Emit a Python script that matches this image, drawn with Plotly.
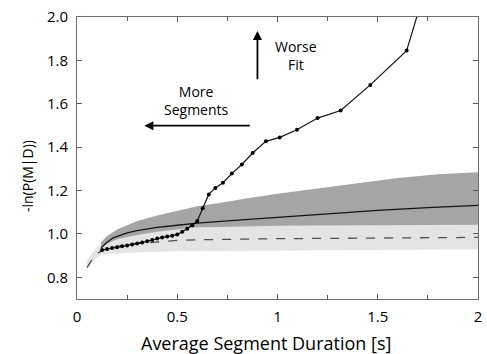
import plotly.graph_objects as go

# Model-score curve (one point per segmentation)
seg_duration = [0.125, 0.15, 0.175, 0.2, 0.225, 0.25, 0.275, 0.3, 0.325, 0.35,
                0.375, 0.4, 0.425, 0.45, 0.475, 0.5, 0.525, 0.55, 0.575, 0.6,
                0.627, 0.657, 0.69, 0.728, 0.772, 0.822, 0.876, 0.942, 1.011,
                1.097, 1.2, 1.315, 1.463, 1.644, 1.75]
seg_score = [0.926, 0.931, 0.935, 0.939, 0.943, 0.947, 0.951, 0.956, 0.961, 0.966,
             0.972, 0.979, 0.984, 0.988, 0.992, 0.997, 1.01, 1.024, 1.04, 1.06,
             1.118, 1.182, 1.212, 1.236, 1.278, 1.32, 1.373, 1.427, 1.445,
             1.48, 1.534, 1.569, 1.687, 1.845, 2.17]

# Upper reference band (dark) and its mean (solid)
dark_x = [0.12, 0.15, 0.2, 0.3, 0.4, 0.5, 0.6, 0.75, 0.85, 1.0, 1.2, 1.4, 1.6, 1.8, 2.0]
dark_hi = [0.962, 0.99, 1.02, 1.06, 1.085, 1.105, 1.128, 1.148, 1.165, 1.185,
           1.21, 1.235, 1.258, 1.275, 1.284]
dark_lo = [0.94, 0.955, 0.975, 0.995, 1.01, 1.02, 1.03, 1.034, 1.036, 1.038,
           1.039, 1.04, 1.041, 1.042, 1.042]
solid_x = [0.12, 0.15, 0.18, 0.25, 0.3, 0.4, 0.5, 0.6, 0.75, 1.0, 1.25, 1.5, 1.75, 2.0]
solid_y = [0.935, 0.962, 0.982, 1.005, 1.015, 1.03, 1.04, 1.05, 1.06, 1.077,
           1.094, 1.109, 1.121, 1.132]

# Lower reference band (light) and its mean (dashed)
light_x = [0.05, 0.07, 0.09, 0.11, 0.13, 0.17, 0.2, 0.3, 0.4, 0.5, 0.75, 1.0, 1.5, 2.0]
light_hi = [0.875, 0.905, 0.928, 0.945, 0.955, 0.968, 0.978, 0.998, 1.012, 1.022,
            1.036, 1.04, 1.042, 1.044]
light_lo = [0.84, 0.862, 0.882, 0.898, 0.905, 0.91, 0.912, 0.915, 0.918, 0.92,
            0.923, 0.925, 0.927, 0.929]
dashed_x = [0.05, 0.07, 0.09, 0.11, 0.13, 0.17, 0.2, 0.3, 0.4, 0.5, 0.6, 0.75, 1.0, 1.5, 2.0]
dashed_y = [0.845, 0.875, 0.898, 0.915, 0.925, 0.937, 0.943, 0.955, 0.964, 0.97,
            0.973, 0.976, 0.978, 0.981, 0.984]

x_ticks = [0, 0.5, 1, 1.5, 2]
x_tick_text = ["0", "0.5", "1", "1.5", "2"]
y_ticks = [0.8, 1.0, 1.2, 1.4, 1.6, 1.8, 2.0]
y_tick_text = ["0.8", "1.0", "1.2", "1.4", "1.6", "1.8", "2.0"]

FONT = "Open Sans"
LIGHT = "rgb(228,228,228)"
DARK = "rgb(165,165,165)"

fig = go.Figure()

fig.add_trace(go.Scatter(
    x=light_x + light_x[::-1], y=light_hi + light_lo[::-1],
    fill="toself", fillcolor=LIGHT, line=dict(width=0), mode="lines",
    hoverinfo="skip", showlegend=False))
fig.add_trace(go.Scatter(
    x=dark_x + dark_x[::-1], y=dark_hi + dark_lo[::-1],
    fill="toself", fillcolor=DARK, line=dict(width=0), mode="lines",
    hoverinfo="skip", showlegend=False))
fig.add_trace(go.Scatter(
    x=dashed_x, y=dashed_y, mode="lines",
    line=dict(color="rgb(80,80,80)", width=1.3, dash="dash"), showlegend=False))
fig.add_trace(go.Scatter(
    x=solid_x, y=solid_y, mode="lines",
    line=dict(color="rgb(20,20,20)", width=1.3), showlegend=False))
fig.add_trace(go.Scatter(
    x=seg_duration, y=seg_score, mode="lines+markers",
    line=dict(color="rgb(20,20,20)", width=1.2),
    marker=dict(color="black", size=4), showlegend=False))

# Arrows
fig.add_annotation(x=0.900, y=1.935, ax=0.900, ay=1.706, xref="x", yref="y",
                   axref="x", ayref="y", text="", showarrow=True,
                   arrowhead=2, arrowsize=1, arrowwidth=1.8, arrowcolor="black")
fig.add_annotation(x=0.336, y=1.499, ax=0.869, ay=1.499, xref="x", yref="y",
                   axref="x", ayref="y", text="", showarrow=True,
                   arrowhead=2, arrowsize=1, arrowwidth=1.8, arrowcolor="black")

# Arrow captions
label_font = dict(family=FONT, size=14, color="black")
fig.add_annotation(x=1.091, y=1.823, xref="x", yref="y", text="Worse<br>Fit",
                   showarrow=False, font=label_font, align="center")
fig.add_annotation(x=0.595, y=1.616, xref="x", yref="y", text="More<br>Segments",
                   showarrow=False, font=label_font, align="center")

# Axis titles
fig.add_annotation(x=0.943, y=-0.155, xref="x", yref="paper", text="Average Segment Duration [s]",
                   showarrow=False, font=dict(family=FONT, size=18, color="black"),
                   xanchor="center", yanchor="middle")
fig.add_annotation(x=-0.1235, y=1.269, xref="paper", yref="y", text="-ln(P(M|D))",
                   showarrow=False, textangle=-90,
                   font=dict(family=FONT, size=14, color="black"),
                   xanchor="center", yanchor="middle")

axis_common = dict(
    showgrid=False, zeroline=False, showline=True, linecolor="rgb(110,110,110)",
    linewidth=1, mirror="ticks", ticks="inside", tickcolor="rgb(90,90,90)",
    ticklen=5, tickwidth=1,
    tickfont=dict(family=FONT, size=15, color="black"),
)

fig.update_xaxes(
    range=[0, 2], tickvals=x_ticks, ticktext=x_tick_text, ticklabelstandoff=4,
    minor=dict(dtick=0.25, ticks="inside", ticklen=4, tickcolor="rgb(90,90,90)"),
    **axis_common)
fig.update_yaxes(
    range=[0.7, 2.0], tickvals=y_ticks, ticktext=y_tick_text, ticklabelstandoff=5,
    **axis_common)

fig.update_layout(
    width=487, height=354,
    margin=dict(l=77, r=5, t=17, b=55),
    plot_bgcolor="white", paper_bgcolor="white",
    font=dict(family=FONT),
)

fig.write_html("out.html")
